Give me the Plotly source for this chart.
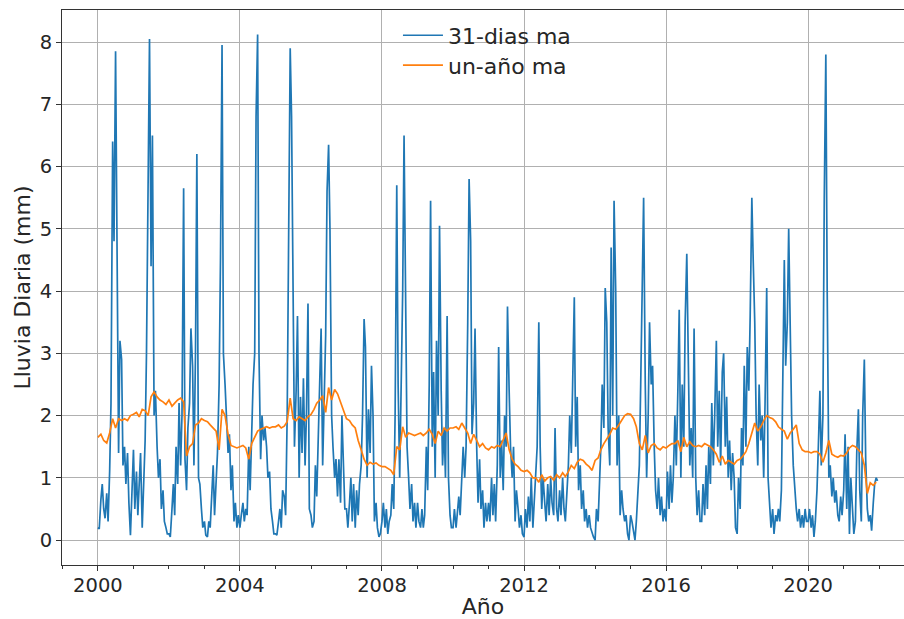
import pandas as pd
import plotly.graph_objects as go

# 31-day moving average, sampled twice a month (1st and 15th), mm/day
ma31_2000 = [0.20, 0.18, 0.65, 0.90, 0.50, 0.35, 0.75, 0.30, 1.10, 2.20, 6.40, 4.80,
             7.85, 4.60, 1.40, 3.20, 2.90, 1.20, 1.50, 0.90, 1.40, 0.60, 0.08, 0.70]
ma31_2001 = [1.45, 0.50, 1.10, 0.40, 0.90, 1.40, 0.20, 0.80, 1.60, 3.00, 5.50, 8.05,
             4.40, 6.50, 2.00, 2.40, 1.50, 1.00, 1.30, 0.50, 0.80, 0.30, 0.20, 0.10]
ma31_2002 = [0.10, 0.05, 0.50, 0.90, 0.40, 1.50, 0.90, 2.20, 1.20, 2.00, 5.65, 1.30,
             0.80, 1.80, 2.20, 3.40, 2.80, 1.20, 3.00, 6.20, 1.00, 0.90, 0.50, 0.20]
ma31_2003 = [0.30, 0.08, 0.05, 0.30, 0.20, 0.60, 1.20, 0.40, 1.00, 1.40, 2.50, 4.50,
             7.95, 3.00, 2.50, 2.10, 1.40, 1.70, 0.80, 1.20, 0.30, 0.60, 0.20, 0.40]
ma31_2004 = [0.20, 0.40, 0.60, 0.30, 0.50, 0.40, 1.50, 0.80, 1.90, 2.50, 3.00, 6.80,
             8.12, 3.00, 1.30, 2.00, 1.60, 1.80, 1.50, 1.00, 1.10, 0.50, 0.30, 0.10]
ma31_2005 = [0.10, 0.08, 0.30, 0.50, 0.20, 0.80, 0.70, 0.40, 2.00, 4.50, 7.90, 6.80,
             3.00, 1.50, 2.40, 3.60, 1.00, 2.30, 1.40, 2.60, 1.20, 2.00, 3.80, 0.50]
ma31_2006 = [0.40, 0.20, 0.30, 1.20, 0.70, 1.50, 2.20, 3.40, 1.20, 2.40, 3.30, 5.60,
             6.35, 5.00, 2.00, 1.50, 1.00, 1.30, 0.70, 1.30, 0.60, 2.00, 1.10, 0.50]
ma31_2007 = [0.50, 0.20, 0.60, 1.00, 0.30, 0.90, 0.20, 0.80, 0.40, 0.90, 1.20, 2.00,
             3.55, 3.10, 1.00, 2.10, 1.40, 2.80, 2.00, 0.30, 0.60, 0.20, 0.05, 0.10]
ma31_2008 = [0.30, 0.60, 0.20, 0.50, 0.10, 0.30, 0.40, 0.90, 0.50, 2.00, 5.70, 2.50,
             1.00, 2.40, 4.00, 6.50, 4.00, 1.50, 1.00, 0.50, 0.90, 0.30, 0.60, 0.20]
ma31_2009 = [0.60, 0.30, 0.20, 0.50, 0.20, 0.40, 1.50, 0.80, 2.50, 5.45, 1.50, 2.70,
             1.00, 3.20, 2.00, 5.05, 2.40, 1.20, 1.80, 1.00, 3.60, 1.00, 0.40, 0.20]
ma31_2010 = [0.20, 0.50, 0.20, 0.40, 0.70, 0.40, 0.90, 1.50, 1.00, 1.50, 3.50, 5.80,
             4.80, 1.70, 2.20, 3.40, 1.50, 0.60, 1.30, 0.50, 0.80, 0.20, 0.60, 0.30]
ma31_2011 = [0.60, 0.30, 1.00, 0.40, 0.90, 0.30, 1.20, 3.10, 1.00, 1.60, 0.80, 2.00,
             1.50, 3.75, 2.40, 1.50, 1.00, 1.50, 0.30, 0.80, 0.50, 0.20, 0.40, 0.10]
ma31_2012 = [0.05, 0.50, 0.20, 0.70, 0.30, 1.00, 0.20, 0.60, 0.90, 1.50, 3.50, 1.50,
             0.50, 1.00, 0.60, 0.30, 0.90, 0.40, 1.00, 0.60, 0.40, 1.80, 0.50, 0.30]
ma31_2013 = [0.80, 0.40, 1.00, 0.50, 0.30, 0.80, 1.20, 2.00, 1.40, 2.50, 3.90, 1.50,
             2.30, 0.80, 1.20, 0.50, 0.80, 0.30, 0.50, 0.20, 0.40, 0.20, 0.10, 0.05]
ma31_2014 = [0.00, 0.50, 0.30, 0.80, 1.50, 2.50, 1.80, 4.05, 3.50, 1.80, 1.20, 4.70,
             2.00, 5.45, 4.00, 1.20, 2.00, 0.40, 0.80, 0.50, 0.30, 0.40, 0.10, 0.00]
ma31_2015 = [0.40, 0.30, 0.10, 0.00, 0.30, 0.80, 1.20, 2.50, 4.00, 5.50, 2.50, 1.00,
             2.00, 3.50, 2.50, 2.80, 1.50, 0.80, 0.50, 1.00, 0.40, 0.70, 0.30, 0.50]
ma31_2016 = [0.30, 1.10, 0.50, 1.20, 0.60, 1.00, 2.00, 1.20, 2.40, 3.70, 1.00, 2.50,
             1.50, 3.50, 4.60, 3.20, 1.20, 1.80, 1.00, 3.40, 1.00, 0.40, 0.80, 0.30]
ma31_2017 = [0.30, 0.90, 0.40, 1.20, 0.50, 1.50, 0.90, 2.20, 1.20, 2.00, 3.20, 1.50,
             2.40, 1.20, 2.70, 3.00, 1.50, 2.30, 1.00, 1.60, 0.80, 1.40, 1.00, 0.20]
ma31_2018 = [0.10, 1.00, 0.50, 1.80, 1.20, 2.80, 1.50, 3.10, 2.40, 3.60, 5.50, 4.50,
             3.50, 2.00, 1.20, 2.50, 1.60, 2.00, 1.00, 2.20, 4.05, 1.00, 0.50, 0.20]
ma31_2019 = [0.50, 0.10, 0.40, 0.30, 0.50, 0.30, 0.80, 2.20, 4.50, 2.80, 3.50, 5.00,
             3.50, 2.00, 1.20, 0.80, 0.50, 0.30, 0.50, 0.20, 0.40, 0.20, 0.50, 0.30]
ma31_2020 = [0.30, 0.50, 0.20, 0.40, 0.05, 0.30, 0.80, 1.50, 2.40, 1.20, 2.00, 5.50,
             7.80, 4.00, 1.00, 1.20, 0.70, 1.00, 0.60, 0.80, 0.40, 0.30, 0.70, 0.40]
ma31_2021 = [0.80, 1.70, 0.50, 1.50, 0.10, 1.00, 0.50, 0.10, 0.30, 1.40, 2.10, 0.80,
             0.30, 2.00, 2.90, 1.30, 0.50, 0.30, 0.40, 0.15, 0.60, 0.90, 1.00, 0.95]

# One-year moving average, sampled monthly (1st of month), mm/day
ma1y_2000 = [1.65, 1.70, 1.60, 1.56, 1.72, 1.95, 1.80, 1.95, 1.92, 1.95, 1.92, 2.00]
ma1y_2001 = [2.02, 2.05, 1.98, 2.10, 2.08, 2.00, 2.30, 2.38, 2.30, 2.25, 2.22, 2.18]
ma1y_2002 = [2.25, 2.15, 2.20, 2.25, 2.28, 2.22, 1.35, 1.50, 1.55, 1.85, 1.88, 1.95]
ma1y_2003 = [1.92, 1.90, 1.85, 1.80, 1.75, 1.45, 2.10, 2.00, 1.70, 1.52, 1.50, 1.48]
ma1y_2004 = [1.50, 1.52, 1.48, 1.30, 1.55, 1.65, 1.75, 1.78, 1.80, 1.82, 1.80, 1.82]
ma1y_2005 = [1.82, 1.85, 1.80, 1.83, 1.90, 2.28, 1.95, 1.92, 1.98, 1.95, 1.92, 1.98]
ma1y_2006 = [2.02, 2.10, 2.20, 2.25, 2.32, 2.05, 2.45, 2.25, 2.42, 2.35, 2.22, 2.10]
ma1y_2007 = [1.95, 1.92, 1.85, 1.80, 1.60, 1.45, 1.30, 1.20, 1.25, 1.22, 1.24, 1.20]
ma1y_2008 = [1.18, 1.18, 1.15, 1.12, 1.05, 1.50, 1.45, 1.82, 1.65, 1.72, 1.70, 1.68]
ma1y_2009 = [1.70, 1.72, 1.68, 1.72, 1.78, 1.70, 1.55, 1.75, 1.68, 1.80, 1.75, 1.80]
ma1y_2010 = [1.80, 1.82, 1.78, 1.88, 1.80, 1.72, 1.55, 1.70, 1.60, 1.50, 1.55, 1.48]
ma1y_2011 = [1.45, 1.50, 1.48, 1.52, 1.50, 1.60, 1.72, 1.45, 1.30, 1.22, 1.18, 1.12]
ma1y_2012 = [1.10, 1.12, 1.08, 1.00, 1.00, 0.93, 1.05, 0.95, 1.00, 1.02, 0.96, 1.05]
ma1y_2013 = [1.00, 1.08, 1.02, 1.10, 1.20, 1.15, 1.25, 1.30, 1.28, 1.22, 1.18, 1.12]
ma1y_2014 = [1.28, 1.32, 1.45, 1.55, 1.62, 1.70, 1.80, 1.78, 1.85, 1.92, 2.00, 2.03]
ma1y_2015 = [2.02, 1.95, 1.82, 1.55, 1.45, 1.68, 1.40, 1.52, 1.55, 1.48, 1.45, 1.50]
ma1y_2016 = [1.48, 1.52, 1.55, 1.55, 1.60, 1.42, 1.65, 1.50, 1.58, 1.52, 1.50, 1.52]
ma1y_2017 = [1.50, 1.55, 1.52, 1.50, 1.45, 1.38, 1.25, 1.35, 1.22, 1.28, 1.25, 1.22]
ma1y_2018 = [1.28, 1.30, 1.35, 1.42, 1.55, 1.72, 1.88, 1.75, 1.82, 1.92, 2.00, 1.97]
ma1y_2019 = [1.95, 1.90, 1.82, 1.78, 1.75, 1.62, 1.72, 1.78, 1.85, 1.55, 1.45, 1.42]
ma1y_2020 = [1.42, 1.40, 1.42, 1.42, 1.38, 1.25, 1.40, 1.60, 1.38, 1.35, 1.33, 1.36]
ma1y_2021 = [1.35, 1.40, 1.48, 1.52, 1.50, 1.45, 1.40, 1.20, 0.75, 0.92, 0.88, 0.93]

ma31_values = (ma31_2000 + ma31_2001 + ma31_2002 + ma31_2003 + ma31_2004 + ma31_2005 +
               ma31_2006 + ma31_2007 + ma31_2008 + ma31_2009 + ma31_2010 + ma31_2011 +
               ma31_2012 + ma31_2013 + ma31_2014 + ma31_2015 + ma31_2016 + ma31_2017 +
               ma31_2018 + ma31_2019 + ma31_2020 + ma31_2021)
ma1y_values = (ma1y_2000 + ma1y_2001 + ma1y_2002 + ma1y_2003 + ma1y_2004 + ma1y_2005 +
               ma1y_2006 + ma1y_2007 + ma1y_2008 + ma1y_2009 + ma1y_2010 + ma1y_2011 +
               ma1y_2012 + ma1y_2013 + ma1y_2014 + ma1y_2015 + ma1y_2016 + ma1y_2017 +
               ma1y_2018 + ma1y_2019 + ma1y_2020 + ma1y_2021)

ma31_dates = pd.date_range("2000-01-01", periods=len(ma31_values), freq="SMS")
ma1y_dates = pd.date_range("2000-01-01", periods=len(ma1y_values), freq="MS")

x_tick_years = ["2000", "2004", "2008", "2012", "2016", "2020"]
y_ticks = [0, 1, 2, 3, 4, 5, 6, 7, 8]

fig = go.Figure()
fig.add_trace(go.Scatter(x=ma31_dates, y=ma31_values, mode="lines", name="31-dias ma",
                         line=dict(color="#1f77b4", width=1.7), legend="legend"))
fig.add_trace(go.Scatter(x=ma1y_dates, y=ma1y_values, mode="lines", name="un-año ma",
                         line=dict(color="#ff7f0e", width=1.7), legend="legend2"))

font_family = "DejaVu Sans"
axis_col = "#333333"
grid_col = "#b0b0b0"
txt_col = "#262626"

fig.update_layout(
    width=904, height=619,
    margin=dict(l=62, r=0, t=10, b=54),
    paper_bgcolor="white", plot_bgcolor="white",
    showlegend=True,
    font=dict(family=font_family, size=19.5, color=txt_col),
    legend=dict(x=0.399, y=0.992, xanchor="left", yanchor="top", bgcolor="rgba(0,0,0,0)",
                itemwidth=40, font=dict(size=22, color=txt_col)),
    legend2=dict(x=0.399, y=0.938, xanchor="left", yanchor="top", bgcolor="rgba(0,0,0,0)",
                 itemwidth=40, font=dict(size=22, color=txt_col)),
    xaxis=dict(
        type="date", automargin=False,
        range=["1998-12-28", "2022-09-13"], tickmode="array",
        tickvals=[y + "-01-01" for y in x_tick_years], ticktext=x_tick_years,
        showgrid=True, gridcolor=grid_col, gridwidth=1,
        ticks="outside", ticklen=5, tickwidth=1, tickcolor=axis_col,
        ticklabelstandoff=-2,
        minor=dict(dtick="M12", tick0="2000-01-01", ticks="outside", ticklen=3,
                   tickcolor=axis_col, showgrid=False),
        showline=True, linecolor=axis_col, linewidth=1, mirror=True, zeroline=False,
        title=dict(text="Año", font=dict(size=22), standoff=7),
        tickfont=dict(size=19.5),
    ),
    yaxis=dict(
        automargin=False,
        range=[-0.40, 8.514], tickmode="array", tickvals=y_ticks,
        showgrid=True, gridcolor=grid_col, gridwidth=1,
        ticks="outside", ticklen=5, tickwidth=1, tickcolor=axis_col,
        showline=True, linecolor=axis_col, linewidth=1, mirror=True, zeroline=False,
        title=dict(text="Lluvia Diaria (mm)", font=dict(size=22), standoff=2),
        tickfont=dict(size=19.5),
    ),
)

fig.write_html("out.html")
